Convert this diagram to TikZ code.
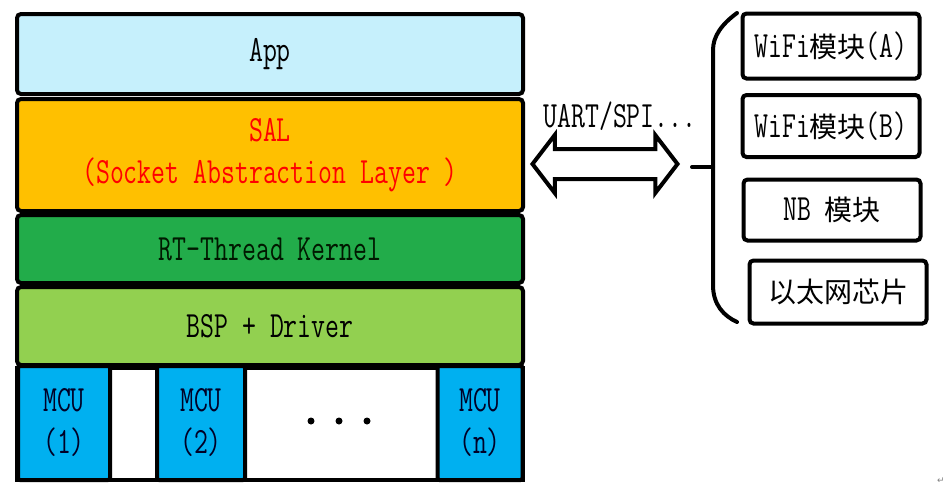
\documentclass[tikz,border=0pt]{standalone}
\usepackage{xcolor}
\usepackage{fontspec}
\usetikzlibrary{shapes.arrows}

\newfontfamily\latfont[FakeStretch=0.73]{Latin Modern Mono}
\newfontfamily\cjkfont{Noto Sans CJK SC}
\newfontfamily\symfont{DejaVu Sans}
\newcommand{\zh}[1]{{\cjkfont\fontsize{28}{30}\selectfont #1}}

\definecolor{appblue}{RGB}{198,240,252}
\definecolor{salorange}{RGB}{255,192,0}
\definecolor{kernelgreen}{RGB}{34,172,74}
\definecolor{bspgreen}{RGB}{146,208,80}
\definecolor{mcublue}{RGB}{0,176,240}

\begin{document}
\begin{tikzpicture}[x=1pt,y=-1pt,
    txt/.style={font=\latfont\fontsize{37}{42}\selectfont},
    layer/.style={txt,draw,line width=4pt,rounded corners=4pt,minimum width=506pt,inner sep=0pt,align=center},
    mcubox/.style={txt,draw,line width=4pt,rounded corners=2pt,fill=mcublue,minimum height=114pt,inner sep=0pt,align=center,text=black!85!blue},
    modbox/.style={txt,draw,line width=4pt,rounded corners=4pt,minimum width=177pt,inner sep=0pt}]
    \useasboundingbox (0,0) rectangle (948,499);

    % layer stack
    \node[layer,fill=appblue,minimum height=80pt] (app) at (270,54) {App};
    \node[layer,fill=salorange,minimum height=112pt,text=red] (sal) at (270,155) {SAL\\(Socket Abstraction Layer )};
    \node[layer,fill=kernelgreen,minimum height=68pt,text=black!90!green] (kernel) at (270,249) {RT-Thread Kernel};
    \node[layer,fill=bspgreen,minimum height=78pt] (bsp) at (270,326) {BSP + Driver};
    \node[layer,fill=white,minimum height=112pt,rounded corners=0pt] (board) at (270,424) {};

    \node[mcubox,minimum width=92pt] (mcu1) at (64,423) {MCU\\(1)};
    \node[mcubox,minimum width=88pt] (mcu2) at (201,423) {MCU\\(2)};
    \node[mcubox,minimum width=85pt] (mcun) at (480,423) {MCU\\(n)};
    \foreach \x in {311,339,367}
      \fill (\x,421) circle (3.5pt);

    % bus
    \node[txt] (bus) at (620,116) {UART/SPI...};
    \node[double arrow,draw,line width=4pt,fill=white,minimum height=145pt,inner xsep=0pt,inner ysep=13pt,
          double arrow head extend=14pt,double arrow tip angle=105] (link) at (605,164) {};

    % modules
    \node[modbox,minimum height=65pt] (wifia) at (831,46) {WiFi\zh{模块}(A)};
    \node[modbox,minimum height=62pt] (wifib) at (831,126) {WiFi\zh{模块}(B)};
    \node[modbox,minimum height=61pt] (nb) at (832,210) {NB \zh{模块}};
    \node[modbox,minimum height=63pt] (eth) at (838,292) {\zh{以太网芯片}};

    \coordinate (bracetip) at (692,167);
    \draw[line width=4pt,line cap=round] (737,13) .. controls (722,24) and (713,36) .. (713,50)
      -- (713,285) .. controls (713,305) and (724,316) .. (737,322);
    \draw[line width=4pt,line cap=round] (bracetip) -- (713,167);

    \node[font=\symfont\fontsize{9}{9}\selectfont,text=gray] (ret) at (941,481) {↵};
  \end{tikzpicture}
\end{document}
